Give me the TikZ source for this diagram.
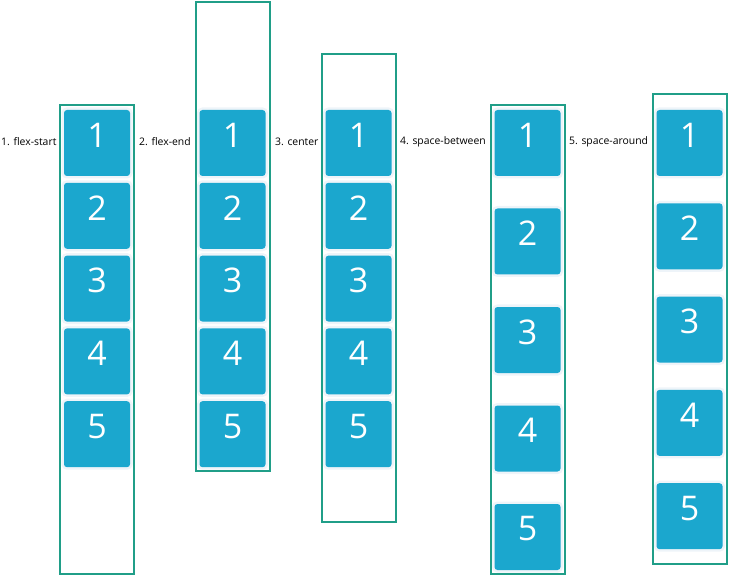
\documentclass[tikz,border=0pt]{standalone}
\usepackage{fontspec}
\setmainfont{Open Sans}
\definecolor{boxblue}{RGB}{27,167,206}
\definecolor{framegreen}{RGB}{32,158,136}
\definecolor{halo}{RGB}{238,244,249}
\tikzset{
  frame/.style={draw=framegreen, line width=2pt, minimum width=74pt, inner sep=0pt, fill=none},
  itembox/.style={fill=boxblue, rounded corners=3pt, minimum width=66pt, minimum height=66pt, inner sep=0pt,
    preaction={draw=halo, line width=5pt}},
  numtxt/.style={text=white, font=\fontsize{34}{34}\selectfont, inner sep=0pt},
  lbl/.style={anchor=west, font=\fontsize{10.4}{12}\selectfont, inner sep=0pt, text=black},
}
\begin{document}
\begin{tikzpicture}[x=1pt, y=-1pt]
\useasboundingbox (0,0) rectangle (734,580);
% frames
\node[frame, minimum height=469pt] (fr1) at (97,339.5) {};
\node[frame, minimum height=469pt] (fr2) at (232.5,236.5) {};
\node[frame, minimum height=468pt] (fr3) at (358.5,288) {};
\node[frame, minimum height=469pt] (fr4) at (527.5,339.5) {};
\node[frame, minimum height=469pt] (fr5) at (689.5,329) {};
% labels
\node[lbl] (l1) at (1,141.5) {1. flex-start};
\node[lbl] (l2) at (139,141.5) {2. flex-end};
\node[lbl] (l3) at (275,141.5) {3. center};
\node[lbl] (l4) at (400,141.5) {4. space-between};
\node[lbl] (l5) at (569,141.5) {5. space-around};
% boxes
\foreach \c/\x/\top/\pitch in {1/97/110/72.8, 2/232.5/110/72.8, 3/358.5/110/72.8, 4/527.5/110/98.5, 5/689.5/110/93.3}{
  \foreach \i in {1,...,5}{
    \pgfmathsetmacro{\yy}{\top+33+(\i-1)*\pitch}
    \node[itembox] (b\c-\i) at (\x,\yy) {};
    \node[numtxt] (n\c-\i) at ([yshift=8pt]b\c-\i.center) {\i};
  }
}
\end{tikzpicture}
\end{document}
